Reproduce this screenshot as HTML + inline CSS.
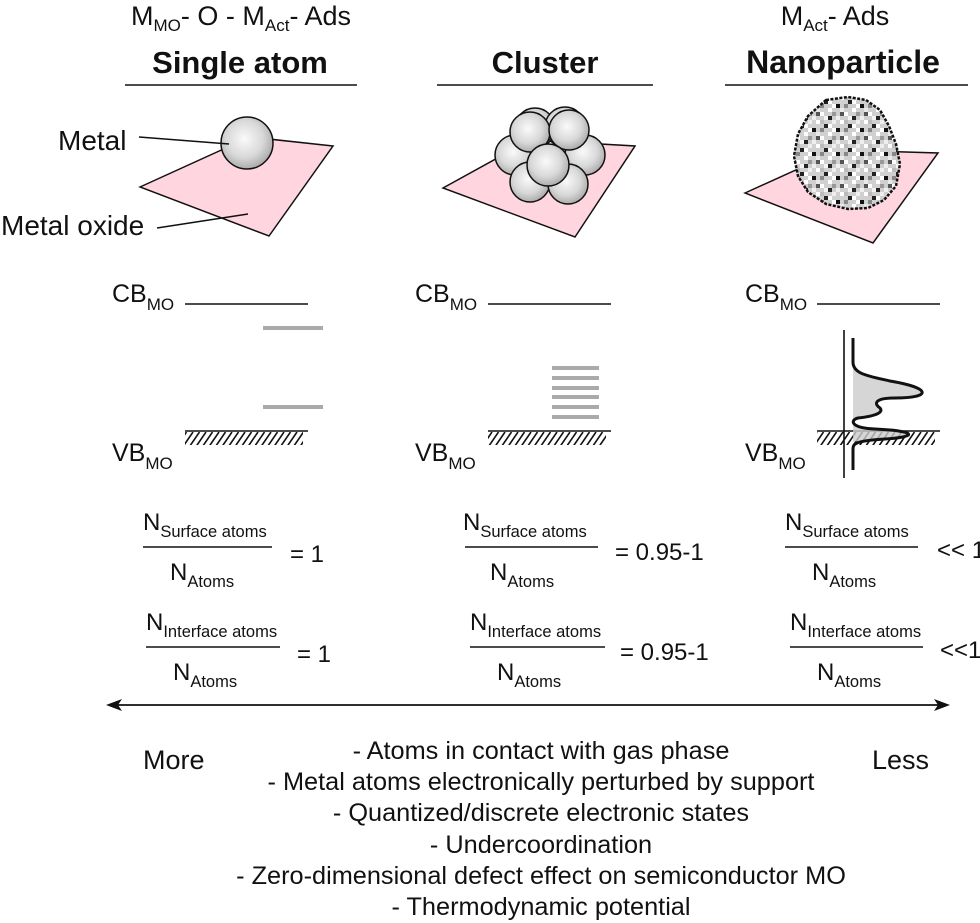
<!DOCTYPE html>
<html><head><meta charset="utf-8"><style>
html,body{margin:0;padding:0;background:#fff}
svg{display:block}
text{font-family:"Liberation Sans","DejaVu Sans",sans-serif;fill:#111}
</style></head><body>
<svg width="980" height="923" viewBox="0 0 980 923" xmlns="http://www.w3.org/2000/svg">
<defs>
<radialGradient id="sph" cx="0.45" cy="0.42" r="0.6">
<stop offset="0" stop-color="#fafafa"/><stop offset="0.6" stop-color="#d8d8d8"/><stop offset="1" stop-color="#a8a8a8"/>
</radialGradient>
<pattern id="hatch" width="6.5" height="16" patternUnits="userSpaceOnUse">
<line x1="0" y1="16" x2="11" y2="0" stroke="#111" stroke-width="1.6"/>
<line x1="-6.5" y1="16" x2="4.5" y2="0" stroke="#111" stroke-width="1.6"/>
</pattern>
<pattern id="noise" width="24" height="24" patternUnits="userSpaceOnUse">
<rect width="24" height="24" fill="#d0d0d0"/>
<rect x="0" y="0" width="4" height="4" fill="#fff"/><rect x="8" y="4" width="4" height="4" fill="#222"/>
<rect x="16" y="0" width="4" height="4" fill="#eee"/><rect x="4" y="8" width="4" height="4" fill="#888"/>
<rect x="12" y="12" width="4" height="4" fill="#fff"/><rect x="20" y="8" width="4" height="4" fill="#111"/>
<rect x="0" y="16" width="4" height="4" fill="#555"/><rect x="8" y="20" width="4" height="4" fill="#f4f4f4"/>
<rect x="16" y="16" width="4" height="4" fill="#999"/><rect x="4" y="0" width="4" height="4" fill="#bbb"/>
<rect x="12" y="4" width="4" height="4" fill="#fff"/><rect x="20" y="20" width="4" height="4" fill="#eee"/>
<rect x="16" y="8" width="4" height="4" fill="#fff"/><rect x="0" y="12" width="4" height="4" fill="#e8e8e8"/>
<rect x="12" y="20" width="4" height="4" fill="#222"/><rect x="4" y="16" width="4" height="4" fill="#fff"/>
</pattern>
</defs>

<!-- headers -->
<text x="241" y="25" font-size="27" text-anchor="middle">M<tspan font-size="17" dy="6">MO</tspan><tspan dy="-6">- O - M</tspan><tspan font-size="17" dy="6">Act</tspan><tspan dy="-6">- Ads</tspan></text>
<text x="835" y="25" font-size="27" text-anchor="middle">M<tspan font-size="17" dy="6">Act</tspan><tspan dy="-6">- Ads</tspan></text>
<text x="240" y="73" font-size="31" font-weight="bold" text-anchor="middle">Single atom</text>
<text x="545" y="73" font-size="31" font-weight="bold" text-anchor="middle">Cluster</text>
<text x="843" y="73" font-size="32" font-weight="bold" text-anchor="middle">Nanoparticle</text>
<g stroke="#111" stroke-width="1.6">
<line x1="125" y1="85" x2="357" y2="85"/><line x1="437" y1="85" x2="653" y2="85"/><line x1="725" y1="85" x2="968" y2="85"/>
</g>

<!-- single atom -->
<polygon points="140,187 250,137 333,146 269,236" fill="#ffd5df" stroke="#111" stroke-width="1.5"/>
<circle cx="247" cy="143" r="26" fill="url(#sph)" stroke="#111" stroke-width="1.5"/>
<line x1="139" y1="137" x2="229" y2="144" stroke="#111" stroke-width="1.5"/>
<line x1="157" y1="228" x2="248" y2="214" stroke="#111" stroke-width="1.5"/>
<text x="58" y="150" font-size="28">Metal</text>
<text x="1" y="235" font-size="28">Metal oxide</text>

<!-- cluster -->
<polygon points="443,188 530,140 635,146 575,237" fill="#ffd5df" stroke="#111" stroke-width="1.5"/>
<g fill="url(#sph)" stroke="#111" stroke-width="1.5">
<circle cx="535" cy="128" r="20"/><circle cx="565" cy="127" r="20"/>
<circle cx="515" cy="155" r="20"/><circle cx="585" cy="155" r="20"/>
<circle cx="530" cy="182" r="20"/><circle cx="568" cy="184" r="20"/>
<circle cx="530" cy="132" r="20"/><circle cx="569" cy="130" r="20"/>
<circle cx="548" cy="165" r="21"/>
</g>

<!-- nanoparticle -->
<polygon points="745,193 840,150 938,153 873,243" fill="#ffd5df" stroke="#111" stroke-width="1.5"/>
<path d="M826,100 L848,97 L866,100 L880,110 L889,126 L896,144 L900,164 L896,186 L884,200 L868,208 L848,209 L826,204 L808,192 L798,176 L794,156 L798,134 L808,116 Z" fill="url(#noise)" stroke="#111" stroke-width="2.5" stroke-dasharray="3 1.5"/>

<!-- energy diagrams -->
<g font-size="25">
<text x="112" y="302">CB<tspan font-size="17" dy="8">MO</tspan></text>
<text x="112" y="461">VB<tspan font-size="17" dy="8">MO</tspan></text>
<text x="415" y="302">CB<tspan font-size="17" dy="8">MO</tspan></text>
<text x="415" y="461">VB<tspan font-size="17" dy="8">MO</tspan></text>
<text x="745" y="302">CB<tspan font-size="17" dy="8">MO</tspan></text>
<text x="745" y="461">VB<tspan font-size="17" dy="8">MO</tspan></text>
</g>
<g stroke="#111" stroke-width="1.6">
<line x1="185" y1="304" x2="308" y2="304"/><line x1="488" y1="304" x2="611" y2="304"/><line x1="817" y1="304" x2="940" y2="304"/>
<line x1="185" y1="431" x2="308" y2="431"/><line x1="488" y1="431" x2="611" y2="431"/><line x1="817" y1="431" x2="940" y2="431"/>
</g>
<rect x="185" y="432" width="118" height="13" fill="url(#hatch)"/>
<rect x="488" y="432" width="118" height="13" fill="url(#hatch)"/>
<rect x="817" y="432" width="118" height="13" fill="url(#hatch)"/>
<g stroke="#aaa" stroke-width="4">
<line x1="263" y1="328" x2="323" y2="328"/><line x1="263" y1="407" x2="323" y2="407"/>
<line x1="552" y1="368" x2="599" y2="368"/><line x1="552" y1="378" x2="599" y2="378"/><line x1="552" y1="388" x2="599" y2="388"/>
<line x1="552" y1="397" x2="599" y2="397"/><line x1="552" y1="407" x2="599" y2="407"/><line x1="552" y1="417" x2="599" y2="417"/>
</g>
<line x1="844" y1="330" x2="844" y2="478" stroke="#111" stroke-width="1.6"/>
<path d="M853,362 C853,374 868,376 890,381 C932,388 932,398 895,398 C872,398 875,405 880,408 C885,414 868,417 858,418 C850,420 850,428 875,429 C918,431 918,437 885,439 C853,441 853,442 853,442 Z" fill="#ccc" fill-opacity="0.8" stroke="none"/>
<path d="M853,338 L853,362 C853,374 868,376 890,381 C932,388 932,398 895,398 C872,398 875,405 880,408 C885,414 868,417 858,418 C850,420 850,428 875,429 C918,431 918,437 885,439 C853,441 853,444 853,450 L853,470" fill="none" stroke="#111" stroke-width="3"/>

<!-- fractions -->
<g font-size="24">
<text x="143" y="530">N<tspan font-size="16.5" dy="7">Surface atoms</tspan></text>
<text x="170" y="580">N<tspan font-size="16.5" dy="7">Atoms</tspan></text>
<text x="290" y="562">= 1</text>
<text x="146" y="630">N<tspan font-size="16.5" dy="7">Interface atoms</tspan></text>
<text x="173" y="680">N<tspan font-size="16.5" dy="7">Atoms</tspan></text>
<text x="297" y="662">= 1</text>

<text x="463" y="530">N<tspan font-size="16.5" dy="7">Surface atoms</tspan></text>
<text x="490" y="580">N<tspan font-size="16.5" dy="7">Atoms</tspan></text>
<text x="615" y="560">= 0.95-1</text>
<text x="470" y="630">N<tspan font-size="16.5" dy="7">Interface atoms</tspan></text>
<text x="497" y="680">N<tspan font-size="16.5" dy="7">Atoms</tspan></text>
<text x="620" y="660">= 0.95-1</text>

<text x="785" y="530">N<tspan font-size="16.5" dy="7">Surface atoms</tspan></text>
<text x="812" y="580">N<tspan font-size="16.5" dy="7">Atoms</tspan></text>
<text x="937" y="558">&lt;&lt; 1</text>
<text x="790" y="630">N<tspan font-size="16.5" dy="7">Interface atoms</tspan></text>
<text x="817" y="680">N<tspan font-size="16.5" dy="7">Atoms</tspan></text>
<text x="940" y="658">&lt;&lt;1</text>
</g>
<g stroke="#111" stroke-width="1.6">
<line x1="143" y1="547" x2="272" y2="547"/><line x1="146" y1="647" x2="280" y2="647"/>
<line x1="465" y1="547" x2="598" y2="547"/><line x1="470" y1="647" x2="605" y2="647"/>
<line x1="785" y1="547" x2="918" y2="547"/><line x1="790" y1="647" x2="923" y2="647"/>
</g>

<!-- arrow -->
<line x1="112" y1="705" x2="944" y2="705" stroke="#111" stroke-width="1.8"/>
<polygon points="106,705 122,699 118,705 122,711" fill="#111"/>
<polygon points="950,705 934,699 938,705 934,711" fill="#111"/>
<text x="143" y="769" font-size="27">More</text>
<text x="872" y="769" font-size="27">Less</text>
<g font-size="25.3" text-anchor="middle">
<text x="541" y="759">- Atoms in contact with gas phase</text>
<text x="541" y="790">- Metal atoms electronically perturbed by support</text>
<text x="541" y="821">- Quantized/discrete electronic states</text>
<text x="541" y="853">- Undercoordination</text>
<text x="541" y="884">- Zero-dimensional defect effect on semiconductor MO</text>
<text x="541" y="915">- Thermodynamic potential</text>
</g>
</svg>
</body></html>
